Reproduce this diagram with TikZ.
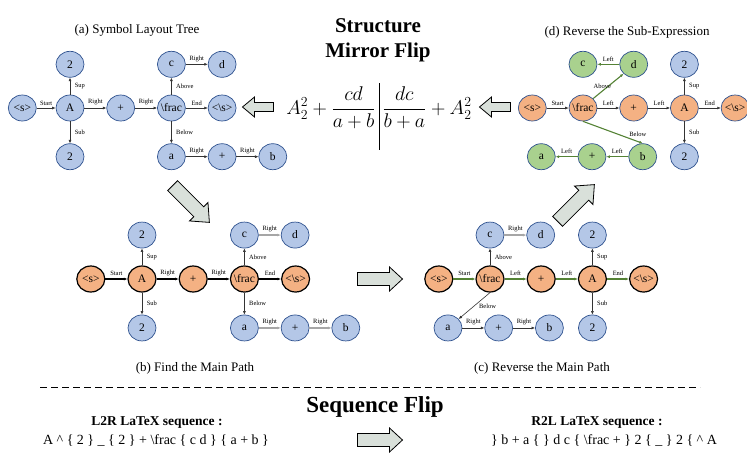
\documentclass[tikz,border=0pt]{standalone}
\usepackage{amsmath}
\usepackage{graphicx}
\usepackage{fontspec}
\setmainfont{Liberation Serif}
\usepackage{xcolor}
\usetikzlibrary{arrows.meta,positioning,shapes.geometric}

\definecolor{symblue}{HTML}{B4C7E7}
\definecolor{symorange}{HTML}{F4B183}
\definecolor{symgreen}{HTML}{A9D18E}
\definecolor{symborder}{HTML}{2F528F}
\definecolor{pathgreen}{HTML}{548235}
\definecolor{flipfill}{HTML}{D9E0DA}

\begin{document}
\begin{tikzpicture}[x=1pt,y=-1pt,>={Latex[length=3.5pt,width=3pt]},node distance=22pt,
  sym/.style={ellipse,draw=symborder,line width=0.7pt,minimum width=28pt,minimum height=26pt,inner sep=-2pt,font=\fontsize{11.5}{12}\selectfont},
  bnode/.style={sym,fill=symblue},
  onode/.style={sym,fill=symorange},
  mnode/.style={sym,fill=symorange,draw=black,line width=1.2pt},
  gnode/.style={sym,fill=symgreen},
  link/.style={->,draw=black!80,line width=0.6pt},
  mainlink/.style={->,draw=black,line width=1.5pt},
  greenlink/.style={->,draw=pathgreen,line width=1.1pt},
  graylink/.style={->,draw=black!35,line width=1.2pt},
  hlbl/.style={font=\fontsize{6.5}{7}\selectfont,above,inner sep=2.5pt},
  vlbl/.style={font=\fontsize{6.5}{7}\selectfont,right,inner sep=1.5pt,xshift=3pt},
  title/.style={font=\fontsize{13}{15}\selectfont},
  bighead/.style={font=\bfseries\fontsize{21}{25}\selectfont,align=center},
  formula/.style={font=\fontsize{17.28}{20}\selectfont,inner sep=1pt},
  seqhead/.style={font=\bfseries\fontsize{13.5}{15}\selectfont},
  seqtext/.style={font=\fontsize{14}{16}\selectfont},
  flipdraw/.style={draw=black,line width=0.8pt,fill=flipfill,line join=miter},
  pics/fatarrow/.style n args={4}{code={
    \draw[flipdraw] (-#1/2,-#2/2) -- (#1/2-#4,-#2/2) -- (#1/2-#4,-#3/2) -- (#1/2,0)
      -- (#1/2-#4,#3/2) -- (#1/2-#4,#2/2) -- (-#1/2,#2/2) -- cycle;}}
]
\useasboundingbox (0,0) rectangle (747,464);

% (a) symbol layout tree
\node[title] (ttla) at (137,30) {(a) Symbol Layout Tree};
\node[bnode] (aA) at (70,108) {A};
\node[bnode,left=19pt of aA] (as) {<s>};
\node[bnode,above=17pt of aA] (asup) {2};
\node[bnode,below=of aA] (asub) {2};
\node[bnode,right=of aA] (aplus) {+};
\node[bnode,right=of aplus] (afrac) {\textbackslash frac};
\node[bnode,right=of afrac] (aend) {<\textbackslash s>};
\node[bnode,above=17pt of afrac] (ac) {c};
\node[bnode,right=of ac] (ad) {d};
\node[bnode,below=of afrac] (aa) {a};
\node[bnode,right=of aa] (aplusb) {+};
\node[bnode,right=of aplusb] (ab) {b};
\draw[link] (as) -- node[hlbl]{Start} (aA);
\draw[link] (aA) -- node[hlbl]{Right} (aplus);
\draw[link] (aplus) -- node[hlbl]{Right} (afrac);
\draw[link] (afrac) -- node[hlbl]{End} (aend);
\draw[link] (aA) -- node[vlbl]{Sup} (asup);
\draw[link] (aA) -- node[vlbl]{Sub} (asub);
\draw[link] (afrac) -- node[vlbl]{Above} (ac);
\draw[link] (afrac) -- node[vlbl]{Below} (aa);
\draw[link] (ac) -- node[hlbl]{Right} (ad);
\draw[link] (aa) -- node[hlbl]{Right} (aplusb);
\draw[link] (aplusb) -- node[hlbl]{Right} (ab);

% structure mirror flip
\node[bighead] (mirror) at (378,40) {Structure\\Mirror Flip};
\node[formula,anchor=east] (fleft) at (377,108) {\scalebox{1.15}{$A_2^2+\dfrac{cd}{a+b}$}};
\node[formula,anchor=west] (fright) at (381,108) {\scalebox{1.15}{$\dfrac{dc}{b+a}+A_2^2$}};
\coordinate (bartop) at (379,83);
\coordinate (barbot) at (379,150);
\draw[line width=1pt] (bartop) -- (barbot);
\pic[rotate=180] (flipa) at (258,107) {fatarrow={31}{9}{20}{12}};
\pic[rotate=180] (flipd) at (495,107) {fatarrow={31}{9}{20}{12}};

% (d) reverse the sub-expression
\node[title] (ttld) at (627,32) {(d) Reverse the Sub-Expression};
\node[onode] (dfrac) at (583,108) {\textbackslash frac};
\node[onode,left=of dfrac] (ds) {<s>};
\node[onode,right=of dfrac] (dplus) {+};
\node[onode,right=of dplus] (dA) {A};
\node[onode,right=of dA] (dend) {<\textbackslash s>};
\node[bnode,above=17pt of dA] (dsup) {2};
\node[bnode,below=of dA] (dsub) {2};
\node[gnode,above=17pt of dfrac] (dc) {c};
\node[gnode,right=of dc] (dd) {d};
\node[gnode,below=of dplus,xshift=9pt] (db) {b};
\node[gnode,left=of db] (dplusb) {+};
\node[gnode,left=of dplusb] (da) {a};
\draw[link] (ds) -- node[hlbl]{Start} (dfrac);
\draw[link] (dfrac) -- node[hlbl]{Left} (dplus);
\draw[link] (dplus) -- node[hlbl]{Left} (dA);
\draw[link] (dA) -- node[hlbl]{End} (dend);
\draw[link] (dA) -- node[vlbl]{Sup} (dsup);
\draw[link] (dA) -- node[vlbl]{Sub} (dsub);
\draw[greenlink] (dd) -- node[hlbl]{Left} (dc);
\draw[greenlink] (dfrac.north east) -- node[hlbl,pos=0.3,inner sep=2pt]{Above} (dd.south west);
\draw[greenlink] (dfrac.south) -- node[hlbl,pos=0.75,above right,inner sep=1pt]{Below} (db.north);
\draw[greenlink] (db) -- node[hlbl]{Left} (dplusb);
\draw[greenlink] (dplusb) -- node[hlbl]{Left} (da);

% (b) find the main path
\pic[rotate=-45] (flipab) at (191,204) {fatarrow={52}{14}{26}{15}};
\node[mnode] (bA) at (142,279) {A};
\node[mnode,left=of bA] (bs) {<s>};
\node[bnode,above=17pt of bA] (bsup) {2};
\node[bnode,below=of bA] (bsub) {2};
\node[mnode,right=of bA] (bplus) {+};
\node[mnode,right=of bplus] (bfrac) {\textbackslash frac};
\node[mnode,right=of bfrac] (bend) {<\textbackslash s>};
\node[bnode,above=17pt of bfrac] (bc) {c};
\node[bnode,right=of bc] (bd) {d};
\node[bnode,below=of bfrac] (ba) {a};
\node[bnode,right=of ba] (bplusb) {+};
\node[bnode,right=of bplusb] (bb) {b};
\draw[mainlink] (bs) -- node[hlbl]{Start} (bA);
\draw[mainlink] (bA) -- node[hlbl]{Right} (bplus);
\draw[mainlink] (bplus) -- node[hlbl]{Right} (bfrac);
\draw[mainlink] (bfrac) -- node[hlbl]{End} (bend);
\draw[link] (bA) -- node[vlbl]{Sup} (bsup);
\draw[link] (bA) -- node[vlbl]{Sub} (bsub);
\draw[link] (bfrac) -- node[vlbl]{Above} (bc);
\draw[link] (bfrac) -- node[vlbl]{Below} (ba);
\draw[graylink] (bc) -- node[hlbl]{Right} (bd);
\draw[graylink] (ba) -- node[hlbl]{Right} (bplusb);
\draw[graylink] (bplusb) -- node[hlbl]{Right} (bb);
\node[title] (ttlb) at (195,368) {(b) Find the Main Path};

% (c) reverse the main path
\pic (flipbc) at (380,279) {fatarrow={45}{13}{24}{13}};
\pic[rotate=45] (flipcd) at (576,203) {fatarrow={52}{14}{26}{15}};
\node[mnode] (cfrac) at (490,279) {\textbackslash frac};
\node[mnode,left=of cfrac] (cs) {<s>};
\node[mnode,right=of cfrac] (cplus) {+};
\node[mnode,right=of cplus] (cA) {A};
\node[mnode,right=of cA] (cend) {<\textbackslash s>};
\node[bnode,above=17pt of cA] (csup) {2};
\node[bnode,below=of cA] (csub) {2};
\node[bnode,above=17pt of cfrac] (cc) {c};
\node[bnode,right=of cc] (cd) {d};
\node[bnode,below=of cfrac,xshift=-42pt] (ca) {a};
\node[bnode,right=of ca] (cplusb) {+};
\node[bnode,right=of cplusb] (cb) {b};
\draw[greenlink,line width=1.5pt] (cs) -- node[hlbl]{Start} (cfrac);
\draw[greenlink,line width=1.5pt] (cfrac) -- node[hlbl]{Left} (cplus);
\draw[greenlink,line width=1.5pt] (cplus) -- node[hlbl]{Left} (cA);
\draw[greenlink,line width=1.5pt] (cA) -- node[hlbl]{End} (cend);
\draw[link] (cA) -- node[vlbl]{Sup} (csup);
\draw[link] (cA) -- node[vlbl]{Sub} (csub);
\draw[link] (cfrac) -- node[vlbl]{Above} (cc);
\draw[link] (cfrac.south) -- node[vlbl,xshift=0pt]{Below} (ca);
\draw[graylink] (cc) -- node[hlbl]{Right} (cd);
\draw[link] (ca) -- node[hlbl]{Right} (cplusb);
\draw[link] (cplusb) -- node[hlbl]{Right} (cb);
\node[title] (ttlc) at (542,368) {(c) Reverse the Main Path};

% sequence flip
\coordinate (dashl) at (40,387);
\coordinate (dashr) at (700,387);
\draw[line width=0.8pt,dash pattern=on 7pt off 4pt] (dashl) -- (dashr);
\node[bighead,font=\bfseries\fontsize{23}{25}\selectfont] (seqflip) at (375,407) {Sequence Flip};
\node[seqhead] (ltr) at (157,422) {L2R LaTeX sequence :};
\node[seqtext] (ltrseq) at (156,440) {A \textasciicircum{} \{ 2 \} \_ \{ 2 \} + \textbackslash frac \{ c d \} \{ a + b \}};
\pic (flipseq) at (380,440) {fatarrow={45}{13}{24}{13}};
\node[seqhead] (rtl) at (597,422) {R2L LaTeX sequence :};
\node[seqtext] (rtlseq) at (604,440) {\} b + a \{ \} d c \{ \textbackslash frac + \} 2 \{ \_ \} 2 \{ \textasciicircum{} A};
\end{tikzpicture}
\end{document}
